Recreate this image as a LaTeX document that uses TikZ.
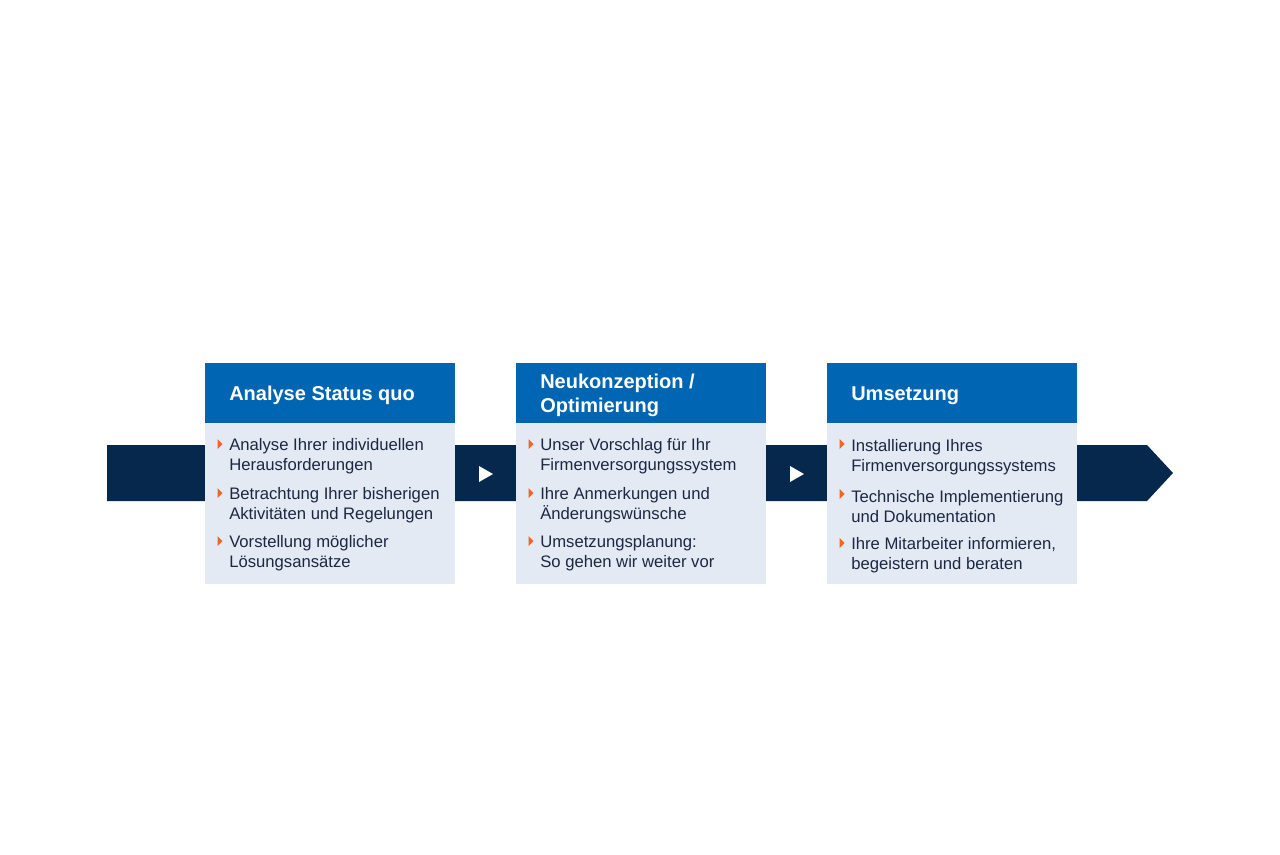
\documentclass[tikz,border=0pt]{standalone}
\usepackage{fontspec}
\setmainfont{Liberation Sans}
\definecolor{hdrblue}{RGB}{0,102,179}
\definecolor{bodybg}{RGB}{227,234,244}
\definecolor{navy}{RGB}{6,40,77}
\definecolor{txt}{RGB}{28,40,66}
\definecolor{bul}{RGB}{242,101,34}
\begin{document}
\begin{tikzpicture}[x=0.75pt,y=-0.75pt,
  hdr/.style={fill=hdrblue,draw=none,minimum width=187.5pt,minimum height=45pt,inner sep=0pt,anchor=north west},
  bodybox/.style={fill=bodybg,draw=none,minimum width=187.5pt,minimum height=120.75pt,inner sep=0pt,anchor=north west},
  ttl/.style={anchor=west,align=left,inner sep=0pt,text=white,font=\fontsize{15}{18}\selectfont\bfseries},
  item/.style={anchor=west,align=left,inner sep=0pt,text=txt,font=\fontsize{12.5}{15}\selectfont},
  bullet/.style={fill=bul,draw=none},
  wtri/.style={fill=white,draw=none}]
\useasboundingbox (0,0) rectangle (1280,854);
% band
\fill[navy] (107,445) -- (1147,445) -- (1173,473) -- (1147,501) -- (107,501) -- cycle;
% boxes
\foreach \i/\x in {1/205,2/516,3/827}{
  \node[hdr] (h\i) at (\x,363) {};
  \node[bodybox] (b\i) at (\x,423) {};
}
% arrows in gaps
\foreach \x in {479,790}{
  \fill[wtri] (\x,466) -- (\x+14,474) -- (\x,482) -- cycle;
}
% titles
\node[ttl] (t1) at (229,395.5) {Analyse Status quo};
\node[ttl] (t2) at (540,395.5) {Neukonzeption /\\Optimierung};
\node[ttl] (t3) at (851,395.5) {Umsetzung};
% bullets
\newcommand{\bt}[2]{\fill[bullet] (#1-2.5,#2-5) -- (#1+2.5,#2) -- (#1-2.5,#2+5) -- cycle;}
\foreach \x in {220,531,842}{
  \bt{\x}{444}
}
\foreach \x in {220,531}{
  \bt{\x}{493}
  \bt{\x}{541}
}
\bt{842}{494}
\bt{842}{543}
% box 1
\node[item] (i11) at (229,456.5) {Analyse Ihrer individuellen\\Herausforderungen};
\node[item] (i12) at (229,505.5) {Betrachtung Ihrer bisherigen\\Aktivitäten und Regelungen};
\node[item] (i13) at (229,553.5) {Vorstellung möglicher\\Lösungsansätze};
% box 2
\node[item] (i21) at (540,456.5) {Unser Vorschlag für Ihr\\Firmenversorgungssystem};
\node[item] (i22) at (540,505.5) {Ihre Anmerkungen und\\Änderungswünsche};
\node[item] (i23) at (540,553.5) {Umsetzungsplanung:\\So gehen wir weiter vor};
% box 3
\node[item] (i31) at (851,457) {Installierung Ihres\\Firmenversorgungssystems};
\node[item] (i32) at (851,507) {Technische Implementierung\\und Dokumentation};
\node[item] (i33) at (851,555.5) {Ihre Mitarbeiter informieren,\\begeistern und beraten};
\end{tikzpicture}
\end{document}
